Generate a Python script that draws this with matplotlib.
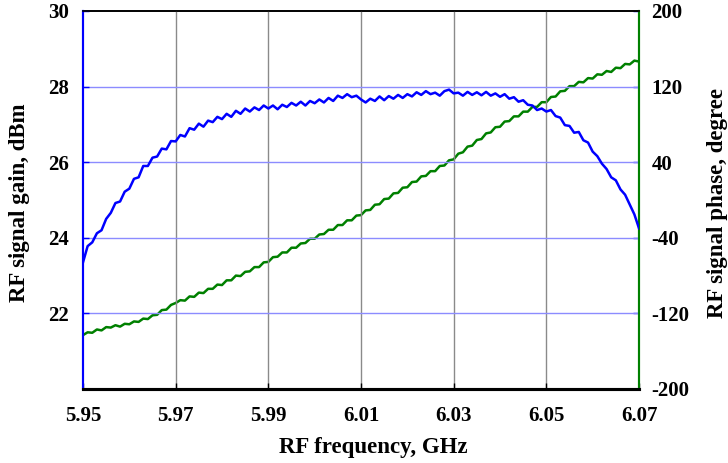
import matplotlib
matplotlib.use("Agg")
import matplotlib.pyplot as plt
import numpy as np

# ---------------------- data ----------------------

freq_start = 5.950
freq_step = 0.001

gain_dbm = [
    23.35, 23.78, 23.88, 24.12, 24.20, 24.50, 24.66, 24.92, 24.96, 25.22,
    25.30, 25.56, 25.60, 25.90, 25.90, 26.12, 26.15, 26.36, 26.34, 26.56,
    26.55, 26.72, 26.68, 26.90, 26.86, 27.02, 26.94, 27.10, 27.06, 27.20,
    27.14, 27.28, 27.20, 27.36, 27.28, 27.42, 27.34, 27.45, 27.38, 27.50,
    27.42, 27.50, 27.40, 27.52, 27.46, 27.57, 27.50, 27.60, 27.50, 27.62,
    27.56, 27.66, 27.58, 27.70, 27.62, 27.76, 27.70, 27.80, 27.72, 27.76,
    27.66, 27.58, 27.68, 27.62, 27.74, 27.64, 27.75, 27.68, 27.78, 27.70,
    27.80, 27.74, 27.85, 27.78, 27.88, 27.80, 27.84, 27.76, 27.88, 27.92,
    27.82, 27.84, 27.76, 27.86, 27.78, 27.85, 27.77, 27.86, 27.76, 27.82,
    27.73, 27.80, 27.68, 27.72, 27.60, 27.64, 27.52, 27.50, 27.38, 27.42,
    27.34, 27.38, 27.22, 27.18, 26.98, 26.96, 26.78, 26.80, 26.58, 26.52,
    26.28, 26.16, 25.96, 25.82, 25.60, 25.52, 25.28, 25.14, 24.88, 24.62,
    24.25,
]

phase_deg = [
    -143.0, -140.0, -140.5, -137.0, -138.0, -134.5, -135.0, -132.5, -134.0, -131.0,
    -131.5, -128.5, -129.0, -125.5, -126.0, -122.0, -121.5, -116.5, -116.0, -111.0,
    -109.0, -106.0, -106.5, -102.0, -102.5, -98.0, -98.5, -94.0, -94.0, -89.5,
    -90.0, -85.0, -85.0, -80.0, -80.5, -76.0, -75.5, -71.0, -71.0, -66.0,
    -65.5, -60.5, -60.0, -55.5, -55.5, -50.5, -50.5, -46.0, -45.5, -41.0,
    -41.0, -36.5, -36.0, -31.5, -31.5, -26.5, -26.5, -21.5, -21.5, -16.5,
    -16.0, -11.0, -10.5, -5.0, -4.5, 1.0, 1.5, 7.0, 7.5, 13.0,
    13.5, 19.0, 19.5, 25.0, 25.5, 30.5, 30.5, 36.0, 36.5, 42.0,
    43.0, 49.0, 50.5, 56.5, 57.5, 63.5, 64.5, 70.5, 71.5, 77.0,
    77.5, 83.0, 83.5, 88.5, 88.5, 93.5, 93.5, 98.5, 98.5, 103.5,
    103.5, 109.0, 109.5, 115.0, 115.5, 120.5, 120.5, 125.0, 124.5, 129.0,
    128.5, 133.0, 132.5, 136.5, 135.5, 140.0, 139.5, 144.0, 143.5, 147.5,
    146.5,
]

x_ticks = [5.95, 5.97, 5.99, 6.01, 6.03, 6.05, 6.07]
gain_ticks = [20, 22, 24, 26, 28, 30]
gain_tick_labels = ["", "22", "24", "26", "28", "30"]
phase_ticks = [-200, -120, -40, 40, 120, 200]

freq = freq_start + freq_step * np.arange(len(gain_dbm))

# ---------------------- plot ----------------------

plt.rcParams["font.family"] = ["Liberation Serif", "DejaVu Serif"]
plt.rcParams["font.weight"] = "bold"

BLUE = "#0000ff"
GREEN = "#008000"
GRID_BLUE = "#8c8cff"

fig = plt.figure(figsize=(7.28, 4.63), dpi=100)
ax = fig.add_axes([83 / 728, 1 - 389 / 463, 556 / 728, 378 / 463])
ax2 = ax.twinx()

# grid
for xv in x_ticks[1:-1]:
    ax.axvline(xv, color="#8a8a8a", lw=1.0, zorder=1)
for yv in gain_ticks[1:-1]:
    ax.axhline(yv, color=GRID_BLUE, lw=1.0, zorder=1)

ax.plot(freq, gain_dbm, color=BLUE, lw=1.8, zorder=3)
ax2.plot(freq, phase_deg, color=GREEN, lw=1.8, zorder=3)

ax.set_xlim(5.95, 6.07)
ax.set_ylim(20, 30)
ax2.set_ylim(-200, 200)

ax.set_xticks(x_ticks)
ax.set_xticklabels([f"{v:.2f}" for v in x_ticks])
ax.set_yticks(gain_ticks)
ax.set_yticklabels(gain_tick_labels)
ax2.set_yticks(phase_ticks)
ax2.set_yticklabels([str(v) for v in phase_ticks])

ax.tick_params(axis="x", direction="in", length=4, width=1, color="black",
               labelsize=15, pad=12)
ax.tick_params(axis="y", direction="in", length=4, width=1, color=BLUE,
               labelsize=15, pad=10)
ax2.tick_params(axis="y", direction="in", length=4, width=1, color=BLUE,
                labelsize=15, pad=9)

for a in (ax, ax2):
    a.spines["left"].set_color(BLUE)
    a.spines["left"].set_linewidth(1.5)
    a.spines["right"].set_color(GREEN)
    a.spines["right"].set_linewidth(1.5)
    a.spines["top"].set_color("black")
    a.spines["top"].set_linewidth(1.2)
    a.spines["bottom"].set_color("black")
    a.spines["bottom"].set_linewidth(2.2)

ax.set_zorder(ax2.get_zorder() + 1)
ax.patch.set_visible(False)

fig.text(373 / 728, 1 - 447 / 463, "RF frequency, GHz", ha="center", va="center",
         fontsize=16.5, fontweight="bold")
fig.text(20 / 728, 1 - 203 / 463, "RF signal gain, dBm", ha="center", va="center",
         rotation=90, fontsize=16.5, fontweight="bold")
fig.text(717 / 728, 1 - 203 / 463, "RF signal phase, degree", ha="center", va="center",
         rotation=90, fontsize=16.5, fontweight="bold")

fig.savefig("out.png", dpi=100)
